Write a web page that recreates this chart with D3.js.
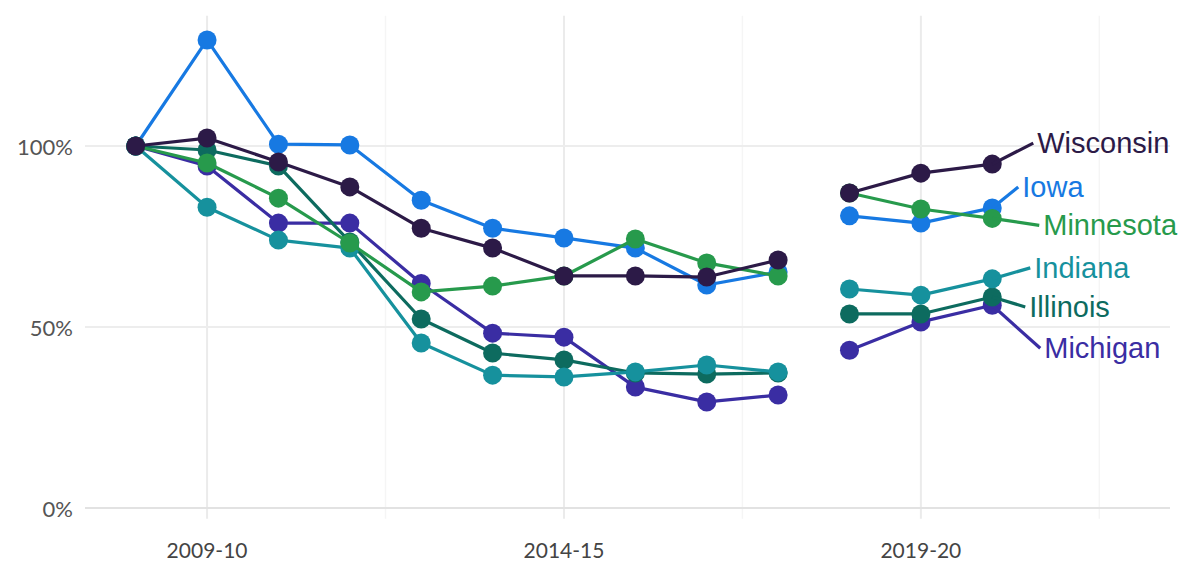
<!DOCTYPE html>
<html>
<head>
<meta charset="utf-8">
<script src="https://cdn.jsdelivr.net/npm/d3@7"></script>
<style>
  html, body { margin: 0; padding: 0; background: #ffffff; }
  #chart { width: 1187px; height: 563px; }
</style>
</head>
<body>
<div id="chart"></div>
<script>
// School years (start year used for the x position)
const years = ["2008-09", "2009-10", "2010-11", "2011-12", "2012-13", "2013-14", "2014-15",
  "2015-16", "2016-17", "2017-18", "2018-19", "2019-20", "2020-21"]
// The series break between 2017-18 and 2018-19
const segments = [["2008-09", "2017-18"], ["2018-19", "2020-21"]]

const xTicks = ["2009-10", "2014-15", "2019-20"]
const yTicks = [0, 50, 100]

// Values as percent of 2008-09
const wisconsin = [100, 102.2, 95.6, 88.7, 77.3, 71.8, 64.1, 64.1, 63.8, 68.5, 87, 92.5, 95]
const iowa      = [100, 129.3, 100.5, 100.3, 85, 77.3, 74.6, 71.8, 61.6, 65.2, 80.7, 78.7, 82.9]
const minnesota = [100, 95.3, 85.6, 73.2, 59.7, 61.3, 64.1, 74.3, 67.7, 64.1, 87, 82.6, 80]
const indiana   = [100, 83.1, 74, 71.8, 45.6, 36.7, 36.2, 37.6, 39.5, 37.6, 60.5, 58.8, 63.3]
const illinois  = [100, 98.9, 94.5, 73.5, 52.2, 42.8, 40.9, 37.3, 37, 37.3, 53.6, 53.6, 58.3]
const michigan  = [100, 94.5, 78.7, 78.7, 62, 48.3, 47.2, 33.4, 29.3, 31.2, 43.6, 51.4, 56]

// drawn bottom to top
const series = [
  { name: "Iowa", values: iowa, color: "#1779e2" },
  { name: "Michigan", values: michigan, color: "#3a2da3" },
  { name: "Illinois", values: illinois, color: "#0d6b5f" },
  { name: "Indiana", values: indiana, color: "#16919d" },
  { name: "Minnesota", values: minnesota, color: "#279a4c" },
  { name: "Wisconsin", values: wisconsin, color: "#2c1a47" }
]

// where each label's leader line ends, relative to the last point
const labelOffsets = {
  Wisconsin: { dx: 41, dy: -21 },
  Iowa: { dx: 26, dy: -21 },
  Minnesota: { dx: 47, dy: 7 },
  Indiana: { dx: 38, dy: -11 },
  Illinois: { dx: 33, dy: 10 },
  Michigan: { dx: 48, dy: 43 }
}

const width = 1187
const height = 563
const startYear = s => +s.slice(0, 4)

const x = d3.scaleLinear()
  .domain([2007.29, 2022.49])
  .range([85, 1170])

const y = d3.scaleLinear()
  .domain([0, 100])
  .range([508, 146])

const svg = d3.select("#chart")
  .append("svg")
  .attr("width", width)
  .attr("height", height)

// Minor vertical grid (half way between the labelled years)
const minorX = [2011.5, 2016.5, 2021.5]
svg.append("g")
  .selectAll("line")
  .data(minorX)
  .join("line")
  .attr("x1", d => x(d))
  .attr("x2", d => x(d))
  .attr("y1", y(136))
  .attr("y2", y(-3))
  .attr("stroke", "#f5f5f5")
  .attr("stroke-width", 1.5)

// Major vertical grid
svg.append("g")
  .selectAll("line")
  .data(xTicks)
  .join("line")
  .attr("x1", d => x(startYear(d)))
  .attr("x2", d => x(startYear(d)))
  .attr("y1", y(136))
  .attr("y2", y(-3))
  .attr("stroke", "#ebebeb")
  .attr("stroke-width", 2)

// Horizontal grid
svg.append("g")
  .selectAll("line")
  .data(yTicks)
  .join("line")
  .attr("x1", 85)
  .attr("x2", 1170)
  .attr("y1", d => y(d))
  .attr("y2", d => y(d))
  .attr("stroke", d => d === 0 ? "#e2e2e2" : "#ededed")
  .attr("stroke-width", 2)

// Axis labels
svg.append("g")
  .selectAll("text")
  .data(yTicks)
  .join("text")
  .attr("x", 73)
  .attr("y", d => y(d))
  .attr("text-anchor", "end")
  .attr("dominant-baseline", "central")
  .style("font-family", "Lato, 'Open Sans', sans-serif")
  .style("font-size", "22px")
  .style("fill", "#555")
  .text(d => d + "%")

svg.append("g")
  .selectAll("text")
  .data(xTicks)
  .join("text")
  .attr("x", d => x(startYear(d)))
  .attr("y", 549)
  .attr("text-anchor", "middle")
  .attr("dominant-baseline", "central")
  .style("font-family", "Lato, 'Open Sans', sans-serif")
  .style("font-size", "21px")
  .style("fill", "#444")
  .text(d => d)

const line = d3.line()
  .x(d => x(startYear(d.year)))
  .y(d => y(d.value))

series.forEach(s => {
  const pts = years.map((yr, i) => ({ year: yr, value: s.values[i] }))
  const g = svg.append("g").attr("class", "series")

  segments.forEach(([a, b]) => {
    const seg = pts.filter(p => startYear(p.year) >= startYear(a) && startYear(p.year) <= startYear(b))
    g.append("path")
      .datum(seg)
      .attr("d", line)
      .attr("fill", "none")
      .attr("stroke", s.color)
      .attr("stroke-width", 3.2)
      .attr("stroke-linejoin", "round")
  })

  g.selectAll("circle")
    .data(pts)
    .join("circle")
    .attr("cx", d => x(startYear(d.year)))
    .attr("cy", d => y(d.value))
    .attr("r", 9.5)
    .attr("fill", s.color)

  // end label with leader line
  const last = pts[pts.length - 1]
  const lx = x(startYear(last.year))
  const ly = y(last.value)
  const off = labelOffsets[s.name]
  g.append("line")
    .attr("x1", lx)
    .attr("y1", ly)
    .attr("x2", lx + off.dx)
    .attr("y2", ly + off.dy)
    .attr("stroke", s.color)
    .attr("stroke-width", 3.2)
  g.append("text")
    .attr("x", lx + off.dx + 4)
    .attr("y", ly + off.dy)
    .attr("dominant-baseline", "central")
    .style("font-family", "'Liberation Sans', Arial, sans-serif")
    .style("font-size", "29px")
    .style("fill", s.color)
    .text(s.name)
})
</script>
</body>
</html>
